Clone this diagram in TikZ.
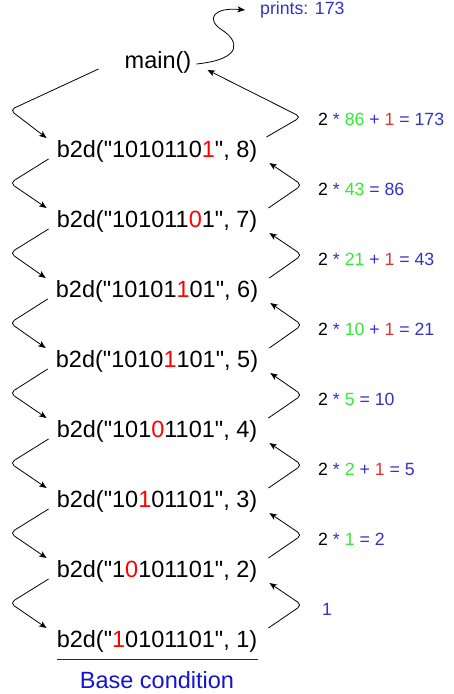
\documentclass[tikz,border=0pt]{standalone}
\usepackage{fontspec}
\setmainfont{Liberation Sans}[Ligatures=TeXOff]
\usetikzlibrary{arrows.meta}
\definecolor{cgreen}{RGB}{51,235,51}
\definecolor{cred}{RGB}{225,50,50}
\definecolor{cblue}{RGB}{50,50,205}
\definecolor{bblue}{RGB}{20,20,210}
\begin{document}
\begin{tikzpicture}[x=1pt,y=-1pt,
  big/.style={inner sep=0pt, font=\fontsize{23.5}{28}\selectfont},
  lab/.style={inner sep=0pt, anchor=west, font=\fontsize{17.7}{21}\selectfont},
  arr/.style={-{Stealth[length=7.5pt,width=6pt,inset=2pt]}, line width=0.8pt, rounded corners=5pt}]
\useasboundingbox[fill=white] (0,0) rectangle (453,694);
\newcommand{\R}[1]{\textcolor{red}{#1}}
\newcommand{\G}[1]{\textcolor{cgreen}{#1}}
\newcommand{\Q}[1]{\textcolor{cred}{#1}}
\newcommand{\B}[1]{\textcolor{cblue}{#1}}
\node[big] (main) at (158,62) {main()};
\node[big] (r8) at (157,151) {b2d("1010110\R{1}", 8)};
\node[big] (r7) at (157,221) {b2d("101011\R{0}1", 7)};
\node[big] (r6) at (157,291) {b2d("10101\R{1}01", 6)};
\node[big] (r5) at (157,361) {b2d("1010\R{1}101", 5)};
\node[big] (r4) at (157,431) {b2d("101\R{0}1101", 4)};
\node[big] (r3) at (157,501) {b2d("10\R{1}01101", 3)};
\node[big] (r2) at (157,571) {b2d("1\R{0}101101", 2)};
\node[big] (r1) at (157,641) {b2d("\R{1}0101101", 1)};
\node[lab] (l8) at (318,119) {2 \B{*} \G{86} \B{+} \Q{1} \B{= 173}};
\node[lab] (l7) at (318,189) {2 \B{*} \G{43} \B{= 86}};
\node[lab] (l6) at (318,259) {2 \B{*} \G{21} \B{+} \Q{1} \B{= 43}};
\node[lab] (l5) at (318,329) {2 \B{*} \G{10} \B{+} \Q{1} \B{= 21}};
\node[lab] (l4) at (318,399) {2 \B{*} \G{5} \B{= 10}};
\node[lab] (l3) at (318,469) {2 \B{*} \G{2} \B{+} \Q{1} \B{= 5}};
\node[lab] (l2) at (318,539) {2 \B{*} \G{1} \B{= 2}};
\node[lab] (l1) at (322,609) {\B{1}};
\node[lab] (pr) at (260,10) {\B{prints: 173}};
\node[big, text=bblue] (base) at (157,680) {Base condition};
\coordinate (bl) at (57,659);
\coordinate (br) at (258,659);
\draw[bblue, line width=0.8pt] (bl) -- (br);
% call arrows (left)
\draw[arr] ([xshift=-26pt,yshift=-7pt]main.west) -- (10,110) -- ([xshift=-10pt,yshift=13pt]r8.west);
\foreach \k/\j [evaluate=\k as \ym using {151+(8-\k)*70+32}] in {8/7,7/6,6/5,5/4,4/3,3/2,2/1}{
  \draw[arr] ([xshift=-8pt,yshift=-8pt]r\k.west) -- (10,\ym) -- ([xshift=-10pt,yshift=13pt]r\j.west);
}
% return arrows (right)
\draw[arr] ([xshift=9pt,yshift=14pt]r8.east) -- (301,117) -- ([xshift=16pt,yshift=-8pt]main.east);
\foreach \k/\j [evaluate=\k as \ym using {151+(8-\k)*70+34}] in {8/7,7/6,6/5,5/4,4/3,3/2,2/1}{
  \draw[arr] ([xshift=11pt,yshift=13pt]r\j.east) -- (302,\ym) -- ([xshift=12pt,yshift=-12pt]r\k.east);
}
% print arrow
\draw[-{Stealth[length=7.5pt,width=6pt,inset=2pt]}, line width=0.8pt] ([xshift=5pt,yshift=-2pt]main.east) .. controls (245,59) and (238,40) .. (222,30) .. controls (205,19) and (214,7) .. ([xshift=-15pt]pr.west);
\end{tikzpicture}
\end{document}
